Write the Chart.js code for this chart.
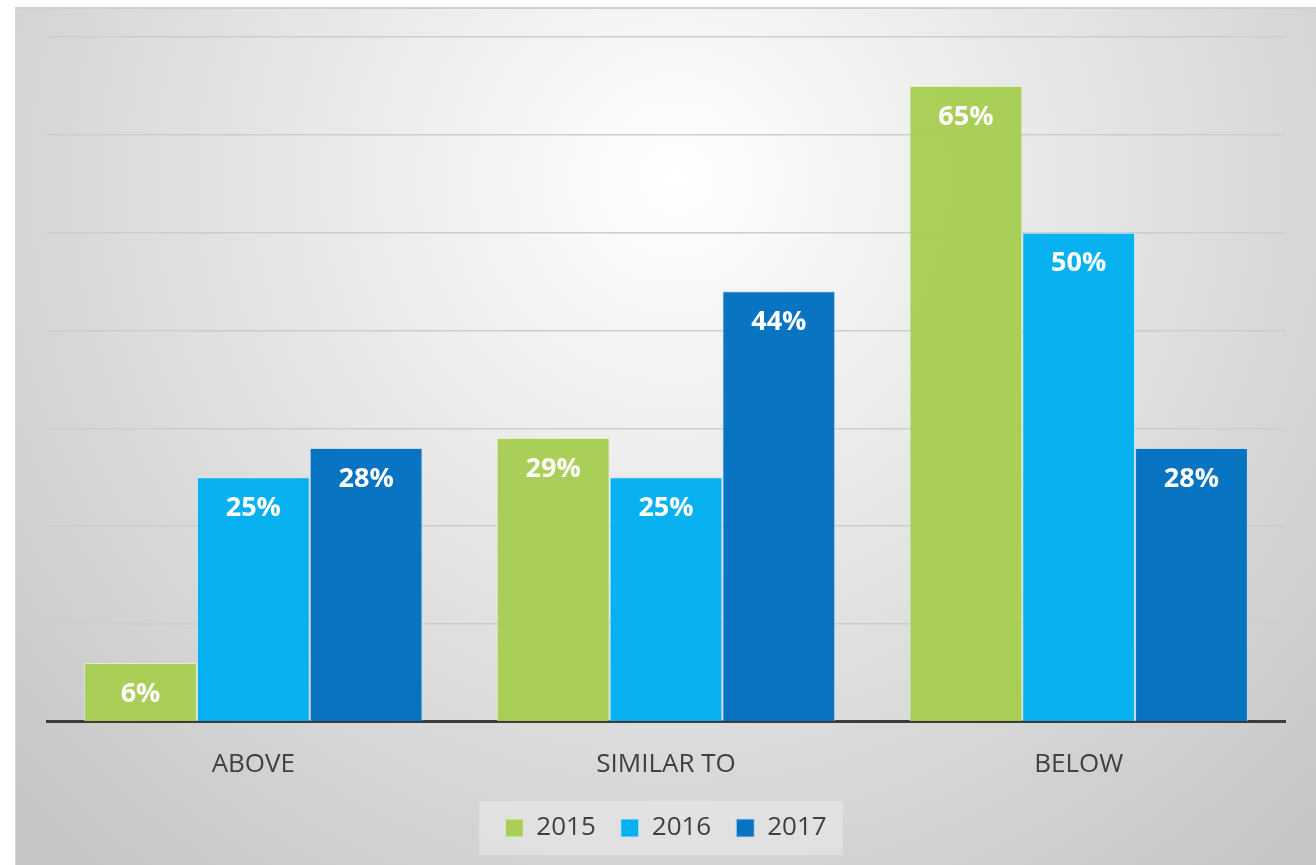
<!DOCTYPE html>
<html>
<head>
<meta charset="utf-8">
<script src="https://cdn.jsdelivr.net/npm/chart.js@4"></script>
<style>
	html, body { margin: 0; padding: 0; background: #fff; }
	#wrap { position: absolute; left: 15px; top: 7px; width: 1301px; height: 858px; border-top: 2px solid #cfcfcf; border-left: 1px solid #d6d6d6; box-sizing: border-box; }
</style>
</head>
<body>
<div id="wrap"><canvas id="barChart"></canvas></div>
<script>
const categories = ['ABOVE', 'SIMILAR TO', 'BELOW']
const years = ['2015', '2016', '2017']
const values2015 = [6, 29, 65]
const values2016 = [25, 25, 50]
const values2017 = [28, 44, 28]
const colors = ['rgba(165, 205, 80, 0.95)', 'rgba(0, 176, 240, 0.97)', 'rgba(0, 112, 192, 0.97)']

const backdrop = {
	id: 'backdrop',
	beforeDraw(chart) {
		const c = chart.ctx
		const w = chart.width, h = chart.height
		const g = c.createRadialGradient(660, 170, 0, 660, 170, 900)
		g.addColorStop(0, '#ffffff')
		g.addColorStop(1, '#c6c6c6')
		c.save()
		c.fillStyle = g
		c.fillRect(0, 0, w, h)
		// legend panel
		const boxes = chart.legend.legendHitBoxes
		if (boxes && boxes.length) {
			const first = boxes[0], last = boxes[boxes.length - 1]
			const x0 = first.left - 26
			const x1 = last.left + last.width + 16
			const cy = first.top + first.height / 2
			c.fillStyle = 'rgba(235, 235, 235, 0.55)'
			c.fillRect(x0, cy - 27, x1 - x0, 54)
		}
		c.restore()
	}
}

const barLabels = {
	id: 'barLabels',
	afterDatasetsDraw(chart) {
		const c = chart.ctx
		c.save()
		c.fillStyle = '#ffffff'
		c.font = 'bold 27px "Open Sans"'
		c.textAlign = 'center'
		c.textBaseline = 'middle'
		chart.data.datasets.forEach((ds, i) => {
			chart.getDatasetMeta(i).data.forEach((bar, j) => {
				c.fillText(ds.data[j] + '%', bar.x, bar.y + 31)
			})
		})
		c.restore()
	}
}

const ctx = document.getElementById('barChart')
const chart = new Chart(ctx, {
	type: 'bar',
	data: {
		labels: categories,
		datasets: [
			{ label: years[0], data: values2015, backgroundColor: colors[0], borderColor: 'rgba(225, 240, 200, 0.9)', borderWidth: 1 },
			{ label: years[1], data: values2016, backgroundColor: colors[1], borderColor: 'rgba(200, 235, 250, 0.9)', borderWidth: 1 },
			{ label: years[2], data: values2017, backgroundColor: colors[2], borderColor: 'rgba(190, 215, 240, 0.9)', borderWidth: 1 }
		]
	},
	options: {
		responsive: true,
		maintainAspectRatio: false,
		animation: false,
		categoryPercentage: 0.82,
		barPercentage: 1,
		layout: { padding: { left: 31, right: 31, top: 28, bottom: 14 } },
		plugins: {
			tooltip: { enabled: false },
			legend: {
				position: 'bottom',
				labels: {
					color: '#404040',
					font: { family: '"Open Sans"', size: 26 },
					boxWidth: 18,
					boxHeight: 18,
					padding: 25
				}
			}
		},
		scales: {
			y: {
				min: 0,
				max: 70,
				ticks: { display: false, stepSize: 10 },
				grid: { color: '#cdcdcd', lineWidth: 1.5, drawTicks: false },
				border: { display: false }
			},
			x: {
				ticks: { color: '#404040', font: { family: '"Open Sans"', size: 26 }, padding: 19 },
				grid: { display: false },
				border: { color: '#3c3c3c', width: 3 },
				afterFit(scale) {
					scale.height -= 9
				}
			}
		}
	},
	plugins: [backdrop, barLabels]
})

window.addEventListener('resize', () => {
	chart.resize()
})
</script>
</body>
</html>
